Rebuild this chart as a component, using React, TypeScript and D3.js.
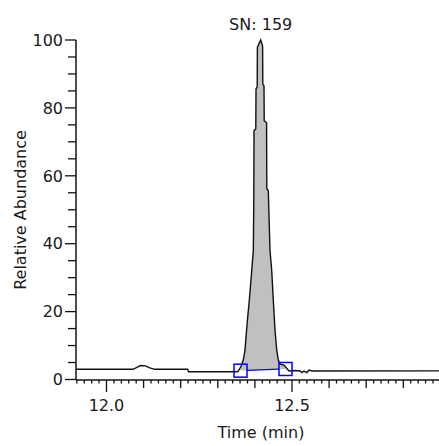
import React from 'react';
import * as d3 from 'd3';

// Chromatogram trace (time in min, relative abundance in %)
const times = [
  11.9178, 12.0714, 12.082, 12.092, 12.105, 12.115, 12.13, 12.219, 12.221, 12.35,
  12.3544, 12.3617, 12.3687, 12.3733, 12.376, 12.3806, 12.3849, 12.3887, 12.393, 12.3957,
  12.397, 12.3976, 12.4024, 12.403, 12.4062, 12.4067, 12.4156, 12.4208, 12.4213, 12.4245,
  12.4251, 12.4315, 12.4321, 12.4361, 12.4407, 12.4453, 12.4496, 12.4542, 12.4588, 12.4631,
  12.4677, 12.4784, 12.4919, 12.5085, 12.5216, 12.527, 12.5323, 12.5404, 12.5458, 12.5539,
  12.8962,
];
const abundance = [
  3.0, 3.0, 3.6, 4.1, 4.0, 3.5, 3.0, 3.0, 2.3, 2.3,
  2.36, 3.67, 5.73, 8.66, 12.48, 18.36, 23.35, 28.34, 34.22, 38.03,
  52.72, 73.28, 73.86, 85.6, 86.2, 97.9, 100, 98.2, 87.0, 86.5,
  76.2, 75.6, 56.2, 55.6, 38.0, 32.2, 23.3, 14.5, 8.7, 5.7,
  4.55, 4.26, 2.5, 2.64, 2.5, 2.06, 2.5, 2.06, 2.8, 2.5,
  2.55,
];

const peakLabel = 'SN: 159';
const peakLabelTime = 12.4156;
const integrationTimes = [12.3612, 12.4825];
const integrationLevels = [2.6, 3.1];

const xDomain = [11.9178, 12.8962];
const yDomain = [0, 100];
const xLabelTicks = [12.0, 12.5];
const yLabelTicks = [0, 20, 40, 60, 80, 100];
const xTitle = 'Time (min)';
const yTitle = 'Relative Abundance';

const FONT = '"DejaVu Sans", Verdana, sans-serif';

export default function App() {
  const W = 439;
  const H = 446;
  const left = 76;
  const bottom = 380;
  const x = d3.scaleLinear().domain(xDomain).range([left, W]);
  const y = d3.scaleLinear().domain(yDomain).range([379.5, 40]);

  const data = times.map((t, i) => ({ t, v: abundance[i] }));
  const traceAt = (t: number) => {
    for (let i = 0; i < data.length - 1; i++) {
      const a = data[i], b = data[i + 1];
      if (t >= a.t && t <= b.t) {
        const f = (t - a.t) / (b.t - a.t);
        return a.v + f * (b.v - a.v);
      }
    }
    return data[data.length - 1].v;
  };
  const [ts, te] = integrationTimes;
  const [ls, le] = integrationLevels;
  const baseAt = (t: number) => ls + ((t - ts) / (te - ts)) * (le - ls);

  const fillPts = [
    { t: ts, v: traceAt(ts) },
    ...data.filter((d) => d.t > ts && d.t < te),
    { t: te, v: traceAt(te) },
  ];
  const area = d3
    .area<{ t: number; v: number }>()
    .x((d) => x(d.t))
    .y0((d) => y(baseAt(d.t)))
    .y1((d) => y(Math.max(d.v, baseAt(d.t))));

  const line = d3
    .line<{ t: number; v: number }>()
    .x((d) => x(d.t))
    .y((d) => y(d.v));

  const box = 13;
  const half = box / 2;

  // x ticks: small every 0.02, medium every 0.1, large every 0.5
  const kStart = Math.ceil(xDomain[0] / 0.02 - 1e-6);
  const kEnd = Math.floor(xDomain[1] / 0.02 + 1e-6);
  const xTicks = d3.range(kStart, kEnd + 1).map((k) => {
    const t = k * 0.02;
    const len = k % 25 === 0 ? 12 : k % 5 === 0 ? 8 : 3.5;
    return { t, len };
  });
  const yTicks = d3.range(0, 101, 5).map((v) => ({ v, len: v % 20 === 0 ? 11 : 8 }));

  const bx0 = x(ts) + half;
  const bx1 = x(te) - half;

  return (
    <svg
      width={W}
      height={H}
      style={{ position: 'absolute', left: 0, top: 0, background: '#fff' }}
      fontFamily={FONT}
    >
      <rect x={0} y={0} width={W} height={H} fill="#fff" />
      <path d={area(fillPts) || ''} fill="#c0c0c0" stroke="none" />
      <path d={line(data) || ''} fill="none" stroke="#111" strokeWidth={1.4} strokeLinejoin="miter" />
      <line
        x1={bx0}
        y1={y(baseAt(ts + (half / (x(te) - x(ts))) * (te - ts)))}
        x2={bx1}
        y2={y(baseAt(te - (half / (x(te) - x(ts))) * (te - ts)))}
        stroke="#0000ff"
        strokeWidth={1.3}
      />
      <rect x={x(ts) - half} y={y(ls) - half} width={box} height={box} fill="none" stroke="#0000ff" strokeWidth={1.5} />
      <rect x={x(te) - half} y={y(le) - half} width={box} height={box} fill="none" stroke="#0000ff" strokeWidth={1.5} />

      {/* axes */}
      <line x1={left} y1={y(100)} x2={left} y2={bottom} stroke="#111" strokeWidth={1.5} />
      <line x1={left} y1={bottom} x2={W} y2={bottom} stroke="#111" strokeWidth={1.5} />
      {yTicks.map((tk) => (
        <line key={'y' + tk.v} x1={left - tk.len} x2={left} y1={y(tk.v)} y2={y(tk.v)} stroke="#111" strokeWidth={1.3} />
      ))}
      {xTicks.map((tk) => (
        <line key={'x' + tk.t.toFixed(2)} x1={x(tk.t)} x2={x(tk.t)} y1={bottom} y2={bottom + tk.len} stroke="#111" strokeWidth={1.3} />
      ))}
      {yLabelTicks.map((v) => (
        <text key={'yl' + v} x={left - 13} y={y(v)} dy="0.36em" textAnchor="end" fontSize={16} fill="#1a1a1a">
          {v}
        </text>
      ))}
      {xLabelTicks.map((t) => (
        <text key={'xl' + t} x={x(t)} y={411} textAnchor="middle" fontSize={16} fill="#1a1a1a">
          {t.toFixed(1)}
        </text>
      ))}
      <text x={x(peakLabelTime)} y={30} textAnchor="middle" fontSize={16} fill="#1a1a1a">
        {peakLabel}
      </text>
      <text x={261} y={438} textAnchor="middle" fontSize={16} fill="#1a1a1a">
        {xTitle}
      </text>
      <text transform={`translate(25.5, ${(y(100) + bottom) / 2}) rotate(-90)`} textAnchor="middle" fontSize={16} fill="#1a1a1a">
        {yTitle}
      </text>
    </svg>
  );
}
